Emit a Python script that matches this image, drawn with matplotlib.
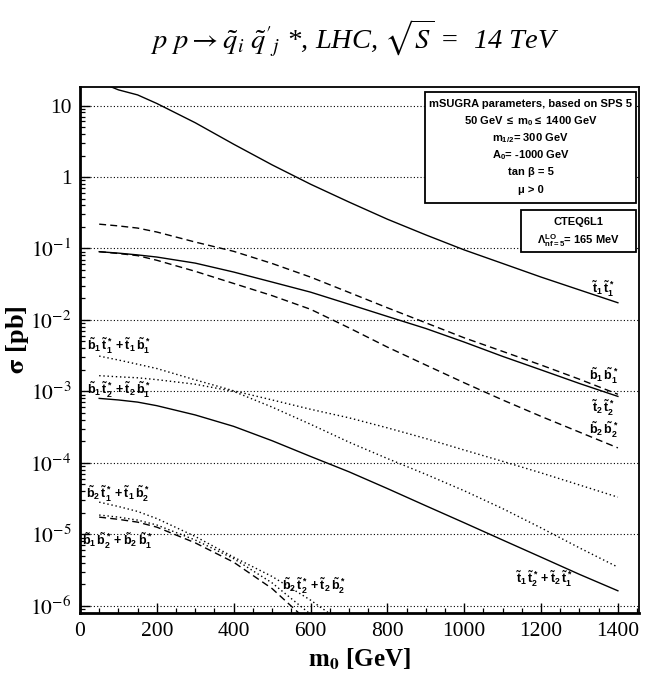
import numpy as np
import matplotlib
matplotlib.use('Agg')
import matplotlib.pyplot as plt
from matplotlib.ticker import FixedLocator, FixedFormatter, MultipleLocator, LogLocator, NullFormatter
from matplotlib.patches import Rectangle

plt.rcParams['mathtext.fontset'] = 'stix'
plt.rcParams['mathtext.rm'] = 'Liberation Sans:bold'
plt.rcParams['mathtext.it'] = 'Liberation Sans:bold'
plt.rcParams['mathtext.bf'] = 'Liberation Sans:bold'

# m0 grid [GeV]
m0 = [50, 100, 150, 200, 300, 400, 500, 600, 700, 800, 900, 1000, 1100, 1200, 1300, 1400]

# cross sections [pb]
t1t1 = [21.4, 16.6, 14.1, 10.7, 5.75, 2.88, 1.48, 0.794, 0.447, 0.257, 0.155, 0.0955,
        0.0617, 0.0398, 0.0263, 0.0174]
b1b1 = [0.219, 0.207, 0.193, 0.170, 0.123, 0.0912, 0.0617, 0.0398, 0.0243, 0.0148,
        0.00912, 0.00562, 0.00363, 0.00234, 0.00148, 0.000912]
t2t2 = [0.0902, 0.0861, 0.0813, 0.0759, 0.0624, 0.0468, 0.0339, 0.0245, 0.0166, 0.0112,
        0.00759, 0.0049, 0.00309, 0.0020, 0.00129, 0.000851]
b2b2 = [0.0902, 0.0851, 0.0794, 0.0684, 0.0479, 0.0324, 0.0219, 0.0141, 0.00776, 0.00417,
        0.00234, 0.00132, 0.000759, 0.000447, 0.000269, 0.000162]
b1t1 = [3.12e-3, 2.75e-3, 2.40e-3, 2.09e-3, 1.45e-3, 1.02e-3, 7.59e-4, 5.62e-4, 4.27e-4,
        3.09e-4, 2.19e-4, 1.51e-4, 1.05e-4, 7.24e-5, 4.9e-5, 3.31e-5]
b1t2 = [1.66e-3, 1.60e-3, 1.55e-3, 1.46e-3, 1.26e-3, 1.0e-3, 6.03e-4, 3.47e-4, 1.95e-4,
        1.15e-4, 6.92e-5, 4.07e-5, 2.29e-5, 1.23e-5, 6.46e-6, 3.47e-6]
t1t2 = [7.98e-4, 7.59e-4, 7.08e-4, 6.31e-4, 4.68e-4, 3.24e-4, 2.04e-4, 1.23e-4, 7.5e-5,
        4.37e-5, 2.51e-5, 1.45e-5, 8.32e-6, 4.79e-6, 2.75e-6, 1.62e-6]

# low curves fall below the axis quickly
m0_low = [50, 100, 150, 200, 300, 400, 500, 600, 700]
b2t1 = [2.82e-5, 2.45e-5, 2.09e-5, 1.66e-5, 9.33e-6, 4.79e-6, 2.57e-6, 1.20e-6, 5.0e-7]
b1b2 = [1.74e-5, 1.62e-5, 1.48e-5, 1.26e-5, 7.59e-6, 4.07e-6, 1.74e-6, 5.6e-7, 2.0e-7]
b2t2 = [1.86e-5, 1.74e-5, 1.58e-5, 1.35e-5, 8.32e-6, 4.57e-6, 2.09e-6, 7.6e-7, 2.5e-7]

solid = '-'
dashed = (0, (5, 3))
dotted = (0, (1, 2))

fig = plt.figure(figsize=(6.62, 6.77), dpi=100)
ax = fig.add_axes([0.1208, 0.095, 0.8445, 0.776])

for y, ls in [(t1t1, solid), (b1b1, dashed), (t2t2, solid), (b2b2, dashed),
              (b1t1, dotted), (b1t2, dotted), (t1t2, solid)]:
    ax.plot(m0, y, color='black', lw=1.0, linestyle=ls)
for y, ls in [(b2t1, dotted), (b1b2, dashed), (b2t2, dotted)]:
    ax.plot(m0_low, y, color='black', lw=1.0, linestyle=ls)

ax.set_yscale('log')
ax.set_xlim(0, 1455)
ax.set_ylim(8e-7, 18)

# axis ticks
ax.xaxis.set_major_locator(MultipleLocator(200))
ax.xaxis.set_minor_locator(MultipleLocator(50))
yt = [1e-6, 1e-5, 1e-4, 1e-3, 1e-2, 1e-1, 1, 10]
ylab = [r'$10^{-6}$', r'$10^{-5}$', r'$10^{-4}$', r'$10^{-3}$', r'$10^{-2}$', r'$10^{-1}$', '1', '10']
ax.yaxis.set_major_locator(FixedLocator(yt))
ax.yaxis.set_major_formatter(FixedFormatter(ylab))
ax.yaxis.set_minor_locator(LogLocator(base=10, subs=np.arange(2, 10), numticks=20))
ax.yaxis.set_minor_formatter(NullFormatter())
ax.tick_params(which='major', direction='in', length=7.5, width=1.0, labelsize=15.5, color='black')
ax.tick_params(which='minor', direction='in', length=3.8, width=0.9)
ax.tick_params(axis='y', which='major', pad=6)
ax.tick_params(axis='x', which='major', pad=7)
for lab in ax.get_xticklabels() + ax.get_yticklabels():
    lab.set_fontfamily('Liberation Serif')

ax.yaxis.grid(True, which='major', linestyle=dotted, color='black', lw=0.8)
for s in ['left', 'bottom']:
    ax.spines[s].set_linewidth(2.0)
for s in ['top', 'right']:
    ax.spines[s].set_linewidth(1.3)

ax.set_xlabel(r'm$_\mathbf{0}$ [GeV]', fontsize=18, fontweight='bold', family='Liberation Serif',
              math_fontfamily='stix', labelpad=4)
ax.set_ylabel(r'$\mathbf{\sigma}$ [pb]', fontsize=19, fontweight='bold', family='Liberation Serif',
              math_fontfamily='stix')
ax.yaxis.set_label_coords(-0.088, 0.52)

fig.text(0.536, 0.944, r"$p\ p \rightarrow \tilde{q}_i\ \tilde{q}'_j$ *, LHC, $\sqrt{S}$ =  14 TeV",
         fontsize=20.5, family='Liberation Serif', style='italic', ha='center', va='center')

# curve labels
lab_kw = dict(fontsize=9, fontweight='bold', family='Liberation Sans', math_fontfamily='custom',
              va='center', color='black')
ax.text(1362, 0.027, r'$\tilde{t}_1\,\tilde{t}_1^*$', ha='center', **lab_kw)
ax.text(1362, 1.64e-3, r'$\tilde{b}_1\,\tilde{b}_1^*$', ha='center', **lab_kw)
ax.text(1362, 5.8e-4, r'$\tilde{t}_2\,\tilde{t}_2^*$', ha='center', **lab_kw)
ax.text(1362, 2.9e-4, r'$\tilde{b}_2\,\tilde{b}_2^*$', ha='center', **lab_kw)
ax.text(1210, 2.35e-6, r'$\tilde{t}_1\,\tilde{t}_2^*+\tilde{t}_2\,\tilde{t}_1^*$', ha='center', **lab_kw)
ax.text(18, 4.3e-3, r'$\tilde{b}_1\,\tilde{t}_1^*+\tilde{t}_1\,\tilde{b}_1^*$', ha='left', **lab_kw)
ax.text(18, 1.05e-3, r'$\tilde{b}_1\,\tilde{t}_2^*+\tilde{t}_2\,\tilde{b}_1^*$', ha='left', **lab_kw)
ax.text(16, 3.65e-5, r'$\tilde{b}_2\,\tilde{t}_1^*+\tilde{t}_1\,\tilde{b}_2^*$', ha='left', **lab_kw)
ax.text(6, 8.0e-6, r'$\tilde{b}_1\,\tilde{b}_2^*+\tilde{b}_2\,\tilde{b}_1^*$', ha='left', **lab_kw)
ax.text(527, 1.88e-6, r'$\tilde{b}_2\,\tilde{t}_2^*+\tilde{t}_2\,\tilde{b}_2^*$', ha='left', **lab_kw)

# parameter boxes
box_kw = dict(transform=ax.transAxes, fill=True, facecolor='white', edgecolor='black', lw=1.3, zorder=3)
ax.add_patch(Rectangle((0.617, 0.780), 0.378, 0.211, **box_kw))
ax.add_patch(Rectangle((0.789, 0.686), 0.206, 0.080, **box_kw))
txt_kw = dict(transform=ax.transAxes, fontsize=8.0, fontweight='bold', family='Liberation Sans',
              math_fontfamily='custom', ha='center', va='center', zorder=4)
rows = ['mSUGRA parameters, based on SPS 5',
        r'50 GeV $\leq$ $\mathrm{m}_0$$\leq$ 1400 GeV',
        r'$\mathrm{m}_{1/2}$= 300 GeV',
        r'$\mathrm{A}_0$= -1000 GeV',
        'tan β = 5',
        'μ > 0']
for r, fy in zip(rows, [0.968, 0.936, 0.903, 0.871, 0.839, 0.804]):
    ax.text(0.806, fy, r, **txt_kw)
ax.text(0.892, 0.744, 'CTEQ6L1', **txt_kw)
ax.text(0.892, 0.709, r'$\Lambda^{\mathrm{LO}}_{\mathrm{nf=5}}$= 165 MeV', **txt_kw)

fig.savefig('out.png', dpi=100)
